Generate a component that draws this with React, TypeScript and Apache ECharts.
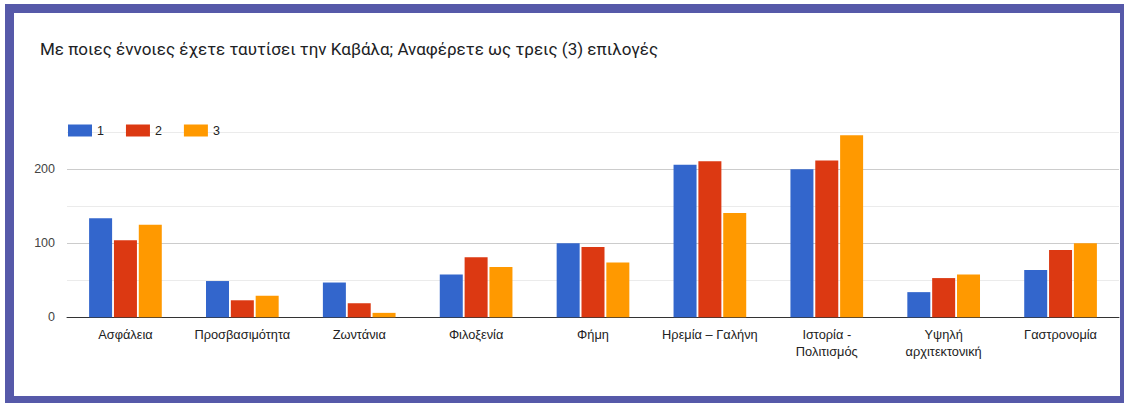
import React, { useEffect, useRef } from "react";
import * as echarts from "echarts";

const categories = [
  "Ασφάλεια",
  "Προσβασιμότητα",
  "Ζωντάνια",
  "Φιλοξενία",
  "Φήμη",
  "Ηρεμία – Γαλήνη",
  "Ιστορία -\nΠολιτισμός",
  "Υψηλή\nαρχιτεκτονική",
  "Γαστρονομία",
];
const seriesNames = ["1", "2", "3"];
const values1 = [134, 49, 47, 58, 100, 206, 200, 34, 64];
const values2 = [104, 23, 19, 81, 95, 211, 212, 53, 91];
const values3 = [125, 29, 6, 68, 74, 141, 246, 58, 100];
const colors = ["#3366cc", "#dc3912", "#ff9900"];
const yTicks = [0, 100, 200];

const BORDER = "#5659a9";

export default function App() {
  const ref = useRef<HTMLDivElement>(null);
  useEffect(() => {
    if (!ref.current) return;
    const chart = echarts.init(ref.current, null, { renderer: "svg" });
    const data = [values1, values2, values3];
    chart.setOption({
      animation: false,
      backgroundColor: "#ffffff",
      title: {
        text: "Με ποιες έννοιες έχετε ταυτίσει την Καβάλα; Αναφέρετε ως τρεις (3) επιλογές",
        left: 35,
        top: 35,
        textStyle: {
          fontFamily: "Roboto",
          fontSize: 17,
          fontWeight: "normal",
          color: "#202124",
        },
      },
      legend: {
        left: 63,
        top: 119,
        itemWidth: 24,
        itemHeight: 12,
        itemGap: 22,
        icon: "rect",
        textStyle: { fontFamily: "Liberation Sans, Arial", fontSize: 12.5, color: "#222" },
        data: seriesNames,
      },
      grid: { left: 67, right: 5, top: 132.3, bottom: 403 - 317.3, containLabel: false },
      xAxis: {
        type: "category",
        data: categories,
        axisTick: { show: false },
        axisLine: { show: true, lineStyle: { color: "#333", width: 1 } },
        axisLabel: {
          interval: 0,
          margin: 9,
          lineHeight: 17,
          fontFamily: "Liberation Sans, Arial",
          fontSize: 12.8,
          color: "#222",
        },
      },
      yAxis: {
        type: "value",
        min: 0,
        max: 250,
        interval: 50,
        axisLine: { show: false },
        axisTick: { show: false },
        splitLine: {
          show: true,
          lineStyle: { color: ["#cccccc", "#ebebeb"], width: 1 },
        },
        axisLabel: {
          margin: 12,
          fontFamily: "Liberation Sans, Arial",
          fontSize: 12.5,
          color: "#444",
          formatter: (v: number) => (yTicks.includes(v) ? String(v) : ""),
        },
      },
      series: seriesNames.map((name, i) => ({
        name,
        type: "bar",
        data: data[i],
        barWidth: 23,
        barGap: "8%",
        itemStyle: { color: colors[i], borderColor: "#ffffff", borderWidth: 0 },
      })),
      graphic: [
        { type: "rect", shape: { x: 5, y: 4, width: 1119, height: 9 }, style: { fill: BORDER }, z: 100 },
        { type: "rect", shape: { x: 5, y: 4, width: 9, height: 399 }, style: { fill: BORDER }, z: 100 },
        { type: "rect", shape: { x: 1120, y: 4, width: 4, height: 399 }, style: { fill: BORDER }, z: 100 },
        { type: "rect", shape: { x: 5, y: 396, width: 1119, height: 7 }, style: { fill: BORDER }, z: 100 },
      ],
    });
    return () => chart.dispose();
  }, []);
  return (
    <div style={{ position: "absolute", left: 0, top: 0, width: 1124, height: 403 }}>
      <div ref={ref} style={{ width: 1124, height: 403 }} />
    </div>
  );
}
